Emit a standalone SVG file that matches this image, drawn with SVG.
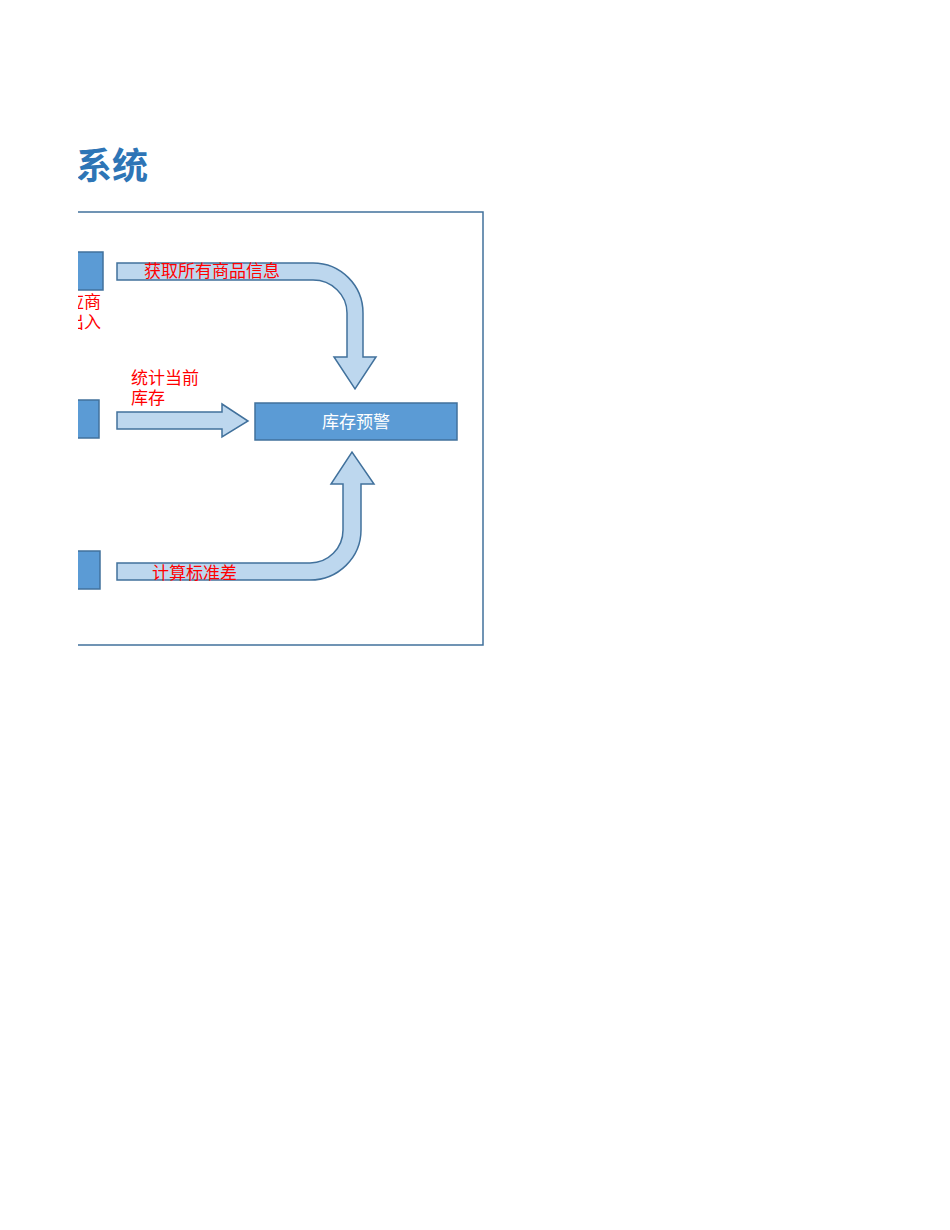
<svg xmlns="http://www.w3.org/2000/svg" width="950" height="1230" viewBox="0 0 950 1230">
<defs>
<style>
.box{fill:#5B9BD5;stroke:#41719C;stroke-width:1.5}
.arr{fill:#BDD7EE;stroke:#41719C;stroke-width:1.5;stroke-linejoin:miter}
.lbl{font-family:"Noto Sans CJK SC","Noto Sans",sans-serif;font-size:17px;fill:#FF0000}
.wt{font-family:"Noto Sans CJK SC","Noto Sans",sans-serif;font-size:17px;fill:#FFFFFF}
.title{font-family:"Noto Sans CJK SC","Noto Sans",sans-serif;font-size:36px;font-weight:bold;fill:#2E75B6}
</style>
<clipPath id="cut"><rect x="78" y="0" width="872" height="1230"/></clipPath>
</defs>
<rect width="950" height="1230" fill="#FFFFFF"/>
<g clip-path="url(#cut)">
<text class="title" x="76" y="179">系统</text>
<path id="frame" d="M40,212 H483 V645 H40" fill="none" stroke="#41719C" stroke-width="1.5"/>
<g id="node-src1"><rect class="box" x="60" y="252" width="43" height="38"/></g>
<g id="node-src2"><rect class="box" x="60" y="400" width="39" height="38"/></g>
<g id="node-src3"><rect class="box" x="60" y="551" width="40" height="38"/></g>
<g id="node-src1-label">
<text class="lbl" x="101" y="308" text-anchor="end">应商</text>
<text class="lbl" x="101" y="328" text-anchor="end">出入</text>
</g>
</g>
<g id="node-alert">
<rect class="box" x="255" y="403" width="202" height="37"/>
<text class="wt" x="356" y="428" text-anchor="middle">库存预警</text>
</g>
<g id="connectors">
<path class="arr" d="M117,263 H313 A50,50 0 0 1 363,313 V357 H376 L355,389 L334,357 H347 V313 A34,33 0 0 0 313,280 H117 Z"/>
<path class="arr" d="M117,412 H222 V404 L248,421 L222,437 V429 H117 Z"/>
<path class="arr" d="M117,563 H310 A33,33 0 0 0 343,530 V484 H331 L352,452 L374,484 H361 V530 A51,50 0 0 1 310,580 H117 Z"/>
<text class="lbl" x="144" y="277">获取所有商品信息</text>
<text class="lbl" x="131" y="384">统计当前</text>
<text class="lbl" x="131" y="404">库存</text>
<text class="lbl" x="152" y="579">计算标准差</text>
</g>
</svg>
